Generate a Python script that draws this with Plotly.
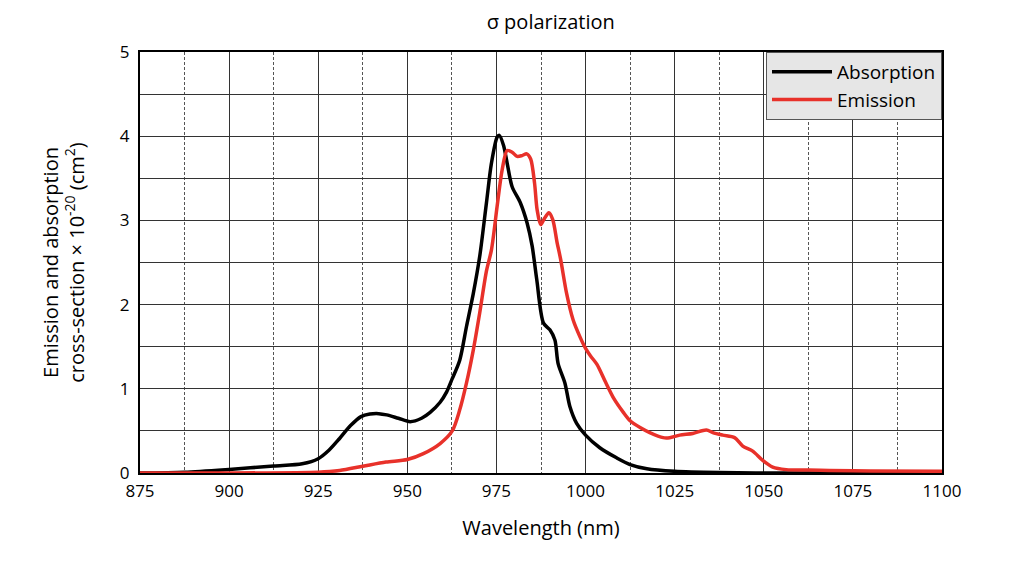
import plotly.graph_objects as go

# Absorption cross-section (x 1e-20 cm^2)
abs_wl = [875, 887.5, 900, 912.5, 920.5, 925, 928, 931, 934, 937, 939.5, 942, 944.2, 947.5, 950.8,
          954, 956.4, 959.2, 961, 962.6, 964.7, 966.6, 968.5, 970.3, 972.2, 973.6, 975.2,
          975.8, 977, 978, 979.4, 981.7, 983.6, 985, 986.3, 988.2, 990, 991.4, 992.3,
          994.2, 995.6, 997.5, 1000, 1004, 1008.7, 1012.5, 1017.2, 1025, 1037.5, 1050, 1100]
abs_val = [0.0, 0.01, 0.043, 0.083, 0.11, 0.17, 0.27, 0.41, 0.56, 0.67, 0.70, 0.705, 0.69, 0.65, 0.61,
           0.65, 0.72, 0.84, 0.96, 1.12, 1.34, 1.74, 2.13, 2.57, 3.21, 3.68, 3.99,
           4.01, 3.89, 3.68, 3.40, 3.21, 2.97, 2.70, 2.30, 1.78, 1.70, 1.58, 1.30,
           1.07, 0.79, 0.59, 0.45, 0.30, 0.18, 0.10, 0.05, 0.02, 0.005, 0.0, 0.0]

# Emission cross-section (x 1e-20 cm^2)
em_wl = [875, 896.5, 925, 931, 937.5, 944, 950, 954.5, 959.2, 962.6, 964.7, 966.6, 968.5,
         970.3, 972.2, 973.6, 975.2, 976.6, 978, 979.4, 980.8, 982.2, 983.5, 984.6, 985.7,
         986.4, 987.4, 988.3, 989.7, 990.8, 992, 993, 994.7, 996.5, 998.4, 1000, 1001.4,
         1003.2, 1005.6, 1008, 1010.6, 1012.5, 1015.3, 1018, 1021.8, 1023.6, 1026.4, 1030.1,
         1033.9, 1035.7, 1038.5, 1041.8, 1044.1, 1046.9, 1049.7, 1052.5, 1056.3, 1062.5,
         1068.4, 1080, 1100]
em_val = [0.0, 0.0, 0.01, 0.03, 0.08, 0.13, 0.16, 0.23, 0.35, 0.50, 0.75, 1.07, 1.46,
          1.90, 2.40, 2.65, 3.17, 3.60, 3.83, 3.81, 3.76, 3.77, 3.79, 3.73, 3.44,
          3.13, 2.95, 3.01, 3.09, 3.01, 2.74, 2.54, 2.13, 1.82, 1.62, 1.48, 1.39,
          1.29, 1.08, 0.88, 0.72, 0.62, 0.54, 0.48, 0.42, 0.42, 0.45, 0.47,
          0.51, 0.48, 0.45, 0.42, 0.32, 0.26, 0.15, 0.07, 0.04, 0.035,
          0.03, 0.025, 0.02]

x_ticks = [875, 900, 925, 950, 975, 1000, 1025, 1050, 1075, 1100]
y_ticks = [0, 1, 2, 3, 4, 5]

FONT = "Open Sans"

fig = go.Figure()
fig.add_trace(go.Scatter(x=abs_wl, y=abs_val, mode="lines", name="Absorption",
                         line=dict(color="black", width=3.5, shape="spline", smoothing=0.8)))
fig.add_trace(go.Scatter(x=em_wl, y=em_val, mode="lines", name="Emission",
                         line=dict(color="#e8312a", width=3.5, shape="spline", smoothing=0.8)))

fig.update_layout(
    width=1024, height=575,
    margin=dict(l=132, r=90, t=44, b=110, autoexpand=False),
    paper_bgcolor="white", plot_bgcolor="white",
    font=dict(family=FONT, color="black", size=17),
    title=dict(text="σ polarization", x=0.53, xanchor="center", y=0.975, yanchor="middle",
               yref="container", font=dict(size=20, family=FONT)),
    legend=dict(x=1, y=1, xanchor="right", yanchor="top",
                bgcolor="#e6e6e6", bordercolor="#555555", borderwidth=1,
                font=dict(size=19, family=FONT), tracegroupgap=0, itemwidth=60),
    showlegend=True,
)
fig.update_xaxes(
    range=[875, 1100], tickvals=x_ticks, ticktext=[str(v) for v in x_ticks],
    showgrid=True, gridcolor="#333333", gridwidth=1,
    minor=dict(dtick=12.5, tick0=875, showgrid=True, gridcolor="#555555",
               griddash="3px,2px", gridwidth=1),
    showline=True, linecolor="black", linewidth=2, mirror=True,
    ticks="", zeroline=False, automargin=False, ticklabelstandoff=2,
    title=dict(text="Wavelength (nm)", font=dict(size=20), standoff=20),
    tickfont=dict(size=17),
)
fig.update_yaxes(
    range=[0, 5], tickvals=y_ticks, ticktext=[str(v) for v in y_ticks],
    showgrid=True, gridcolor="#333333", gridwidth=1,
    minor=dict(dtick=0.5, tick0=0, showgrid=True, gridcolor="#333333", gridwidth=1),
    showline=True, linecolor="black", linewidth=2, mirror=True,
    ticks="", zeroline=False, automargin=False, ticklabelstandoff=5,
    title=dict(text="Emission and absorption<br>cross-section × 10<sup>-20</sup> (cm<sup>2</sup>)",
               font=dict(size=20), standoff=30),
    tickfont=dict(size=17),
)

fig.write_html("out.html")
